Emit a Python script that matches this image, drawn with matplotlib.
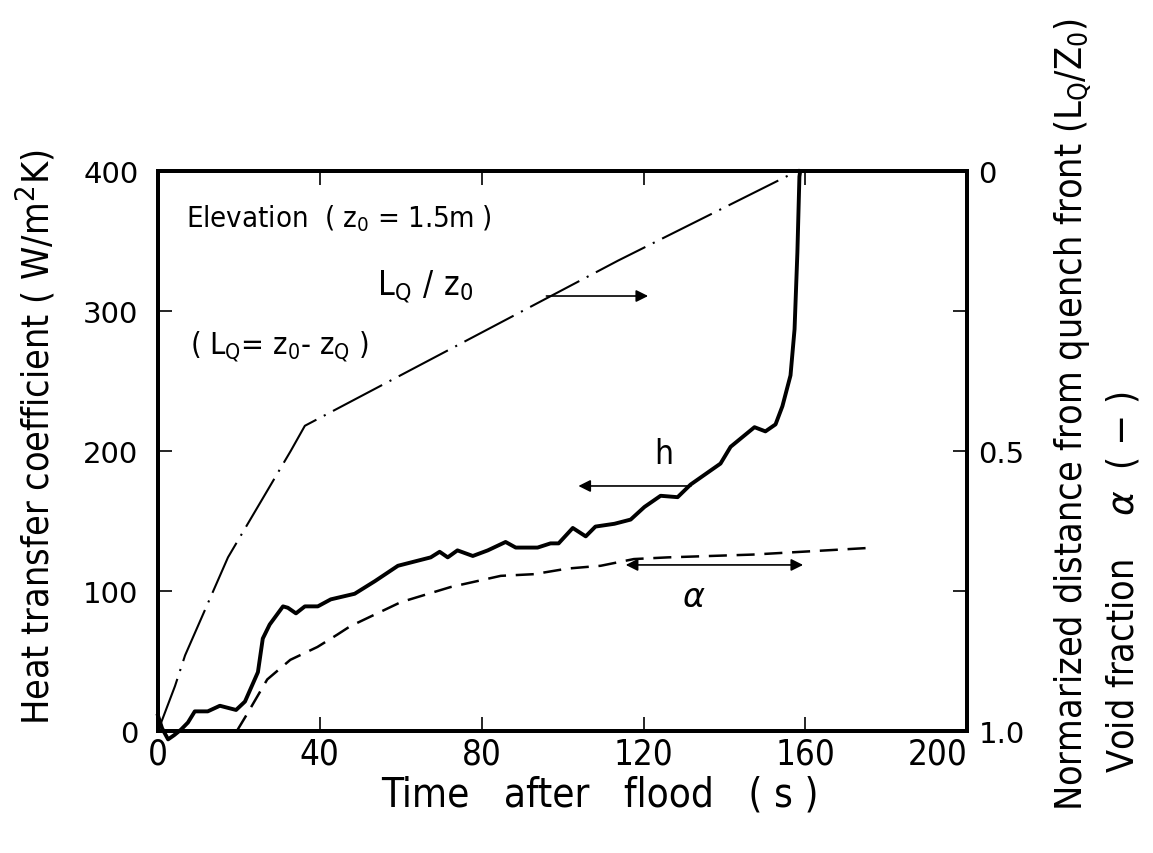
import matplotlib
matplotlib.use('Agg')
import matplotlib.pyplot as plt
from matplotlib import font_manager
import numpy as np

#%% data
# heat transfer coefficient h (left axis, W/m2K)
t_h = [0, 1, 2.5, 4, 5.7, 7.4, 9.1, 12.3, 15.3, 19.3, 21.5, 24.7, 25.9, 27.6, 30.9,
       32.1, 34.1, 36.3, 39.5, 42.7, 48.6, 53.6, 59.3, 67.4, 69.6, 71.6, 74, 77.8,
       81.5, 85.9, 88.4, 93.8, 97, 99, 102.5, 105.7, 108.1, 112.8, 116.8, 120.2,
       124.2, 128.4, 131.6, 139, 141.5, 147.4, 150.1, 152.6, 154.3, 156.3, 157.3,
       158, 158.5, 158.7]
h = [11, 2, -6, -3, 1, 6, 14, 14, 18, 15, 21, 42, 66, 76, 89,
     88, 84, 89, 89, 94, 98, 107, 118, 124, 128, 124, 129, 125,
     129, 135, 131, 131, 134, 134, 145, 139, 146, 148, 151, 160,
     168, 167, 176, 191, 203, 217, 214, 219, 232, 254, 287,
     342, 396, 400]

# normalized distance from quench front LQ/z0 (right axis)
t_lq = [0, 4.2, 6.7, 17.3, 32.8, 36.3, 113.7, 158]
lq = [1.0, 0.92, 0.865, 0.69, 0.50, 0.455, 0.16, 0.0]

# void fraction alpha (right axis)
t_a = [19.5, 22, 27, 32.7, 39.4, 44.3, 47.5, 60, 72.3, 84.7, 92.9, 101.2,
       109.4, 117.6, 126, 147, 176]
alpha = [1.0, 0.97, 0.908, 0.873, 0.85, 0.828, 0.813, 0.77, 0.743, 0.723,
         0.72, 0.71, 0.705, 0.693, 0.69, 0.685, 0.673]

x_ticks = [0, 40, 80, 120, 160, 200]
y_ticks = [0, 100, 200, 300, 400]
r_ticks = [0, 0.25, 0.5, 0.75, 1.0]
r_labels = ['0', '', '0.5', '', '1.0']

#%% plot
plt.rcParams['lines.scale_dashes'] = False
narrow = font_manager.FontProperties(family='DejaVu Sans', stretch='condensed')

def nf(size):
    f = narrow.copy()
    f.set_size(size)
    return f

fig = plt.figure(figsize=(11.53, 8.54), dpi=100)
ax = fig.add_axes([0.137, 0.1429, 0.702, 0.6557])
ax2 = ax.twinx()

ax.plot(t_h, h, color='k', lw=2.8, solid_joinstyle='round', clip_on=False)
ax2.plot(t_lq, lq, color='k', lw=1.5, linestyle=(0, (40, 6, 1.5, 6)))
ax2.plot(t_a, alpha, color='k', lw=1.8, linestyle=(0, (13, 7)))

ax.set_xlim(0, 200)
ax.set_ylim(0, 400)
ax2.set_ylim(1.0, 0)

for s in ax.spines.values():
    s.set_linewidth(2.8)
for s in ax2.spines.values():
    s.set_linewidth(2.8)

ax.set_xticks(x_ticks)
ax.set_xticklabels([str(v) for v in x_ticks], fontproperties=nf(25))
ax.get_xticklabels()[-1].set_ha('right')
ax.set_yticks(y_ticks)
ax.set_yticklabels([str(v) for v in y_ticks], family='DejaVu Sans', fontsize=21)
ax.tick_params(axis='both', direction='in', length=10, width=1.2, top=True, pad=14)
ax.tick_params(axis='x', pad=4)

ax2.set_yticks(r_ticks)
ax2.set_yticklabels(r_labels, family='DejaVu Sans', fontsize=21)
ax2.tick_params(axis='y', direction='in', length=10, width=1.2, pad=8)

fig.text(0.52, 0.045, 'Time   after   flood   ( s )', fontproperties=nf(29), ha='center', va='bottom')
fig.text(0.012, 0.488, r'Heat transfer coefficient ( W/m$^2$K)', fontproperties=nf(27),
         rotation=90, ha='left', va='center')

fig.text(0.913, 0.05, r'Normarized distance from quench front ($\mathregular{L_Q / Z_0}$)',
         rotation=90, fontproperties=nf(27), ha='left', va='bottom')
fig.text(0.958, 0.095, r'Void fraction    $\alpha$  ( $-$ )',
         rotation=90, fontproperties=nf(27), ha='left', va='bottom')

# annotations
ax.text(7, 367, r'Elevation  ( $\mathregular{z_0}$ = 1.5m )', fontproperties=nf(21), va='center')
ax.text(54, 318, r'$\mathregular{L_Q\ /\ z_0}$', fontproperties=nf(24), va='center')
ax.text(8, 275, r'( $\mathregular{L_Q}$= $\mathregular{z_0}$- $\mathregular{z_Q}$ )', fontproperties=nf(22), va='center')
ax.annotate('', xy=(121.8, 310.7), xytext=(95.3, 310.7),
            arrowprops=dict(arrowstyle='-|>', color='k', lw=1.2, mutation_scale=18))
ax.text(125, 198, 'h', fontproperties=nf(24), ha='center', va='center')
ax.annotate('', xy=(103.2, 175), xytext=(132.4, 175),
            arrowprops=dict(arrowstyle='-|>', color='k', lw=1.2, mutation_scale=18))
ax.annotate('', xy=(114.9, 118.6), xytext=(160.1, 118.6),
            arrowprops=dict(arrowstyle='<|-|>', color='k', lw=1.2, mutation_scale=18))
ax.text(132.4, 96, r'$\alpha$', fontsize=24, ha='center', va='center')

fig.savefig('out.png', dpi=100)
